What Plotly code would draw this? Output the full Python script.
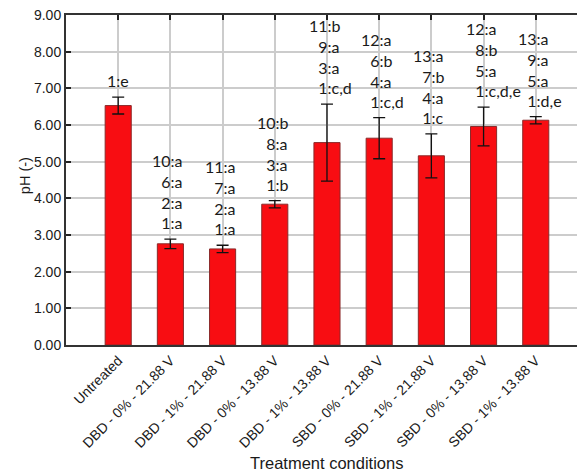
import plotly.graph_objects as go

# Treatment groups, mean pH and standard deviation
categories = [
    "Untreated",
    "DBD - 0% - 21.88 V",
    "DBD - 1% - 21.88 V",
    "DBD - 0% - 13.88 V",
    "DBD - 1% - 13.88 V",
    "SBD - 0% - 21.88 V",
    "SBD - 1% - 21.88 V",
    "SBD - 0% - 13.88 V",
    "SBD - 1% - 13.88 V",
]
ph_mean = [6.53, 2.76, 2.62, 3.84, 5.52, 5.64, 5.16, 5.96, 6.13]
ph_sd = [0.23, 0.13, 0.10, 0.10, 1.05, 0.56, 0.60, 0.53, 0.10]

# Statistical grouping letters printed above each bar (one entry per line)
group_letters = [
    ["1:e"],
    ["10:a", "6:a", "2:a", "1:a"],
    ["11:a", "7:a", "2:a", "1:a"],
    ["10:b", "8:a", "3:a", "1:b"],
    ["11:b", "9:a", "3:a", "1:c,d"],
    ["12:a", "6:b", "4:a", "1:c,d"],
    ["13:a", "7:b", "4:a", "1:c"],
    ["12:a", "8:b", "5:a", "1:c,d,e"],
    ["13:a", "9:a", "5:a", "1:d,e"],
]

y_ticks = [0, 1, 2, 3, 4, 5, 6, 7, 8, 9]

x_pos = list(range(len(categories)))
FIG_SPACE = "\u2007"
AXIS_FONT = "Liberation Sans"


def pad(line, width):
    # left-pad with figure spaces so the digits line up
    num = line.split(":")[0]
    return FIG_SPACE * (width - len(num)) + line


fig = go.Figure()

fig.add_trace(go.Bar(
    x=x_pos,
    y=ph_mean,
    width=0.5,
    marker=dict(color="#f80d12", line=dict(color="#8a2a2a", width=1)),
    error_y=dict(type="data", array=ph_sd, visible=True,
                 color="#111111", thickness=1.3, width=6),
    showlegend=False,
    hoverinfo="skip",
))

# invisible trace that carries the mirrored top axis
fig.add_trace(go.Scatter(x=[x_pos[0]], y=[0], xaxis="x2", mode="markers",
                         marker=dict(opacity=0), showlegend=False,
                         hoverinfo="skip"))

for i, lines in enumerate(group_letters):
    w = max(len(l.split(":")[0]) for l in lines)
    text = "<br>".join(pad(l, w) for l in lines)
    multi = len(lines) > 1
    fig.add_annotation(
        x=x_pos[i], y=ph_mean[i] + ph_sd[i],
        xref="x", yref="y",
        text=text, showarrow=False,
        align="left",
        xanchor="left" if multi else "center",
        xshift=-20 if multi else 0,
        yanchor="bottom", yshift=5,
        font=dict(family="Lato", size=16, color="#1a1a1a"),
    )

# axis titles placed as paper-referenced annotations
fig.add_annotation(
    x=0.509, y=-0.357, xref="paper", yref="paper",
    xanchor="center", yanchor="middle",
    text="Treatment conditions", showarrow=False,
    font=dict(family=AXIS_FONT, size=16.5, color="#1a1a1a"),
)
fig.add_annotation(
    x=-0.08, y=0.512, xref="paper", yref="paper",
    xanchor="center", yanchor="middle", textangle=-90,
    text="pH (-)", showarrow=False,
    font=dict(family=AXIS_FONT, size=14.5, color="#1a1a1a"),
)

x_range = [-1, 8.79]

fig.update_layout(
    width=577, height=472,
    margin=dict(l=66, r=0, t=15, b=127),
    paper_bgcolor="white", plot_bgcolor="white",
    font=dict(family=AXIS_FONT, size=14, color="#1a1a1a"),
    xaxis=dict(
        range=x_range,
        tickmode="array", tickvals=x_pos, ticktext=categories,
        tickangle=-45, ticks="",
        showgrid=True, gridcolor="#cccccc", gridwidth=1.5,
        showline=True, linecolor="#333333", linewidth=2,
        zeroline=False,
        tickfont=dict(family=AXIS_FONT, size=14, color="#1a1a1a"),
    ),
    xaxis2=dict(
        overlaying="x", side="top", matches="x", range=x_range,
        tickmode="array", tickvals=x_pos,
        ticks="inside", ticklen=5, tickwidth=1.5, tickcolor="#222222",
        showticklabels=False, showgrid=False,
        showline=True, linecolor="#333333", linewidth=2,
        zeroline=False,
    ),
    yaxis=dict(
        range=[0, 9],
        tickmode="array", tickvals=y_ticks,
        ticktext=[f"{v:.2f}" for v in y_ticks],
        ticks="inside", ticklen=5, tickwidth=1.5, tickcolor="#222222",
        showgrid=True, gridcolor="#cccccc", gridwidth=1.5,
        showline=True, linecolor="#333333", linewidth=2,
        zeroline=False,
        tickfont=dict(family=AXIS_FONT, size=14, color="#1a1a1a"),
    ),
)

fig.write_html("out.html")
